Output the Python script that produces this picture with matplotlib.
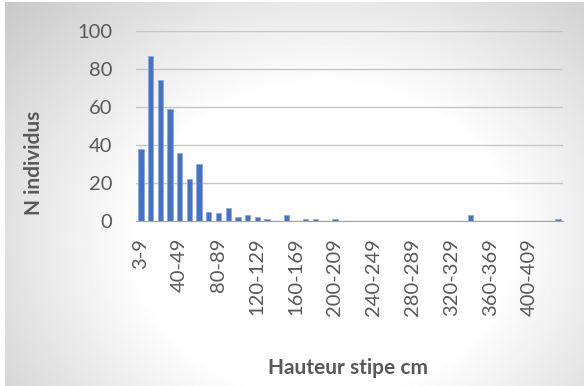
import numpy as np
import matplotlib
matplotlib.use("Agg")
import matplotlib.pyplot as plt

# height classes (cm) and number of individuals per class
classes = ["3-9", "10-19", "20-29", "30-39", "40-49", "50-59", "60-69", "70-79",
           "80-89", "90-99", "100-109", "110-119", "120-129", "130-139", "140-149",
           "150-159", "160-169", "170-179", "180-189", "190-199", "200-209",
           "210-219", "220-229", "230-239", "240-249", "250-259", "260-269",
           "270-279", "280-289", "290-299", "300-309", "310-319", "320-329",
           "330-339", "340-349", "350-359", "360-369", "370-379", "380-389",
           "390-399", "400-409", "410-419", "420-429", "430-439"]
counts = [38, 87, 74, 59, 36, 22, 30, 5, 4, 7, 2, 3, 2, 1, 0, 3, 0, 1, 1, 0, 1,
          0, 0, 0, 0, 0, 0, 0, 0, 0, 0, 0, 0, 0, 3, 0, 0, 0, 0, 0, 0, 0, 0, 1]
yticks = [0, 20, 40, 60, 80, 100]

plt.rcParams['font.family'] = ['Lato', 'DejaVu Sans']
txt = '#595959'

W, H = 584, 386
fig = plt.figure(figsize=(W/100, H/100), dpi=100, facecolor='white')

# radial grey background of the chart area
bg = fig.add_axes([5/W, 0, 1-5/W, 1-2/H])
yy, xx = np.mgrid[0:1:300j, 0:1:400j]
d = np.sqrt(((xx-0.55)/0.6)**2 + ((yy-0.62)/0.75)**2)
grey = 255 - 79*np.clip(d-0.54, 0, None)
bg.imshow(grey, cmap='gray', vmin=0, vmax=255, aspect='auto', extent=[0, 1, 1, 0])
bg.set_axis_off()

ax = fig.add_axes([136/W, 1-221/H, 427/W, 190/H])
ax.patch.set_alpha(0)
x = np.arange(len(classes))
ax.bar(x, counts, width=0.55, color='#4472C4', edgecolor='#8faadc', linewidth=0.6, zorder=3)

ax.set_xlim(-0.5, len(classes)-0.5)
ax.set_ylim(0, 100)
ax.set_yticks(yticks)
ax.set_xticks(x[::4])
ax.set_xticklabels(classes[::4], rotation=90)
ax.tick_params(axis='both', length=0, labelsize=14.5, labelcolor=txt)
ax.tick_params(axis='x', pad=12)
ax.tick_params(axis='y', pad=17)
ax.grid(axis='y', color='#c6c6c6', linewidth=1, zorder=0)
for s in ['top', 'right', 'left']:
    ax.spines[s].set_visible(False)
ax.spines['bottom'].set_color('#a6a6a6')
ax.spines['bottom'].set_zorder(4)

fig.text(34/W, 1-163/H, "N individus", rotation=90, ha='center', va='center',
         fontsize=15, fontweight='bold', color=txt)
fig.text(348/W, 1-368.5/H, "Hauteur stipe cm", ha='center', va='center',
         fontsize=15, fontweight='bold', color=txt)

plt.savefig("out.png", dpi=100)
